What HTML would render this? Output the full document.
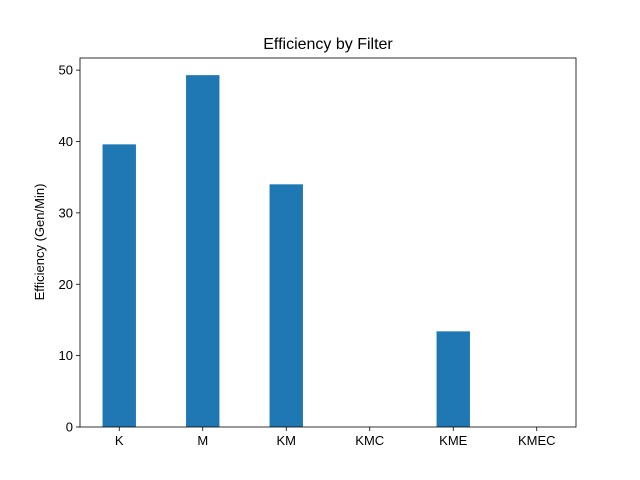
<!DOCTYPE html>
<html><head><meta charset="utf-8"><style>
body{margin:0;background:#fff;}
svg{display:block;font-family:"Liberation Sans","DejaVu Sans",sans-serif;}
</style></head><body>
<svg id="chart" width="640" height="480">
<rect width="640" height="480" fill="#fff"/>
<text x="328" y="49" text-anchor="middle" font-size="16">Efficiency by Filter</text>
<g id="bars"></g>
<g id="axes"></g>
<text transform="translate(44,242) rotate(-90)" text-anchor="middle" font-size="13">Efficiency (Gen/Min)</text>
</svg>
<script>
const categories = ["K","M","KM","KMC","KME","KMEC"];
const values = [39.6, 49.3, 34.0, 0, 13.4, 0];
const yTicks = [0,10,20,30,40,50];

const L=80,R=576,T=58,B=427;
const xmin=-0.47,xmax=5.47,ymax=51.7;
const xs=v=>L+(v-xmin)/(xmax-xmin)*(R-L);
const ys=v=>B-v/ymax*(B-T);
const NS="http://www.w3.org/2000/svg";
const bars=document.getElementById('bars'),axes=document.getElementById('axes');
function mk(tag,attrs,parent){const e=document.createElementNS(NS,tag);for(const k in attrs)e.setAttribute(k,attrs[k]);parent.appendChild(e);return e;}
values.forEach((v,i)=>{
  const r=mk('rect',{x:xs(i-0.2),y:ys(v),width:xs(i+0.2)-xs(i-0.2),height:B-ys(v),fill:'#1f77b4'},bars);
  
  
  mk('line',{x1:xs(i),x2:xs(i),y1:B,y2:B+4,stroke:'#000','stroke-width':0.8},axes);
  const t=mk('text',{x:xs(i),y:B+18,'text-anchor':'middle','font-size':13},axes);
  t.textContent=categories[i];
  
  
});
yTicks.forEach(v=>{
  mk('line',{x1:L-4,x2:L,y1:ys(v),y2:ys(v),stroke:'#000','stroke-width':0.8},axes);
  const t=mk('text',{x:L-7,y:ys(v)+4.5,'text-anchor':'end','font-size':13},axes);
  t.textContent=v;
  
  
});
const f=mk('rect',{x:L,y:T,width:R-L,height:B-T,fill:'none',stroke:'#000','stroke-width':0.8},axes);


</script>
</body></html>
